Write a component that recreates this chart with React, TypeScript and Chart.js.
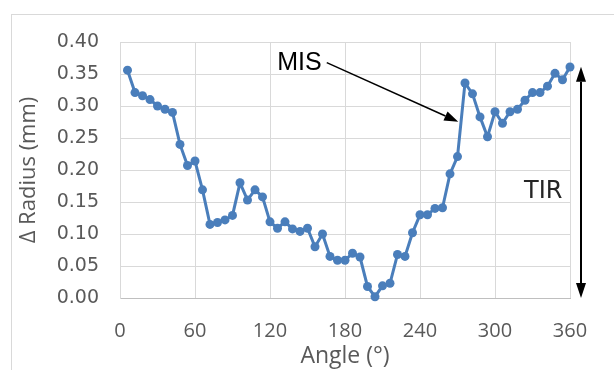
import React, { useEffect, useRef } from "react";
import { Chart, registerables } from "chart.js";

Chart.register(...registerables);

// Data
const angles: number[] = [
  6, 12, 18, 24, 30, 36, 42, 48, 54, 60,
  66, 72, 78, 84, 90, 96, 102, 108, 114, 120,
  126, 132, 138, 144, 150, 156, 162, 168, 174, 180,
  186, 192, 198, 204, 210, 216, 222, 228, 234, 240,
  246, 252, 258, 264, 270, 276, 282, 288, 294, 300,
  306, 312, 318, 324, 330, 336, 342, 348, 354, 360,
];
const radiusDelta: number[] = [
  0.356, 0.321, 0.316, 0.31, 0.3, 0.295, 0.29, 0.24, 0.207, 0.214,
  0.169, 0.115, 0.118, 0.122, 0.129, 0.18, 0.153, 0.169, 0.158, 0.119,
  0.109, 0.119, 0.108, 0.104, 0.109, 0.08, 0.1, 0.065, 0.059, 0.059,
  0.07, 0.064, 0.018, 0.002, 0.019, 0.023, 0.068, 0.065, 0.102, 0.13,
  0.13, 0.14, 0.141, 0.194, 0.221, 0.336, 0.319, 0.283, 0.252, 0.291,
  0.273, 0.291, 0.295, 0.309, 0.321, 0.321, 0.331, 0.351, 0.341, 0.361,
];
const xTickValues: number[] = [0, 60, 120, 180, 240, 300, 360];
const yTickValues: number[] = [0, 0.05, 0.1, 0.15, 0.2, 0.25, 0.3, 0.35, 0.4];

// Annotations (in data units)
const misLabel = { text: "MIS", angle: 125.8, value: 0.356 };
const misArrow = { fromAngle: 165.4, fromValue: 0.3677, toAngle: 270.6, toValue: 0.2755 };
const tirLabel = { text: "TIR", angle: 323.2, value: 0.1558 };
const tirArrow = { angle: 368.8, topValue: 0.3614, bottomValue: 0.0 };

const BLUE = "#4a7ebb";
const GRID = "#d9d9d9";
const TEXT = "#595959";

function arrowHead(ctx: CanvasRenderingContext2D, x1: number, y1: number, x2: number, y2: number, len: number, half: number) {
  const a = Math.atan2(y2 - y1, x2 - x1);
  const bx = x2 - len * Math.cos(a);
  const by = y2 - len * Math.sin(a);
  ctx.beginPath();
  ctx.moveTo(x2, y2);
  ctx.lineTo(bx + half * Math.sin(a), by - half * Math.cos(a));
  ctx.lineTo(bx - half * Math.sin(a), by + half * Math.cos(a));
  ctx.closePath();
  ctx.fill();
  return { bx, by };
}

const annotationPlugin = {
  id: "annotations",
  afterDraw(chart: any) {
    const ctx: CanvasRenderingContext2D = chart.ctx;
    const xs = chart.scales.x;
    const ys = chart.scales.y;
    ctx.save();
    // MIS label
    ctx.fillStyle = "#000000";
    ctx.font = "25px 'Liberation Sans', Arial, sans-serif";
    ctx.textBaseline = "alphabetic";
    ctx.textAlign = "left";
    ctx.fillText(misLabel.text, xs.getPixelForValue(misLabel.angle), ys.getPixelForValue(misLabel.value));
    // MIS arrow
    const x1 = xs.getPixelForValue(misArrow.fromAngle);
    const y1 = ys.getPixelForValue(misArrow.fromValue);
    const x2 = xs.getPixelForValue(misArrow.toAngle);
    const y2 = ys.getPixelForValue(misArrow.toValue);
    ctx.strokeStyle = "#000000";
    ctx.lineWidth = 1.5;
    const h = arrowHead(ctx, x1, y1, x2, y2, 14, 5);
    ctx.beginPath();
    ctx.moveTo(x1, y1);
    ctx.lineTo(h.bx, h.by);
    ctx.stroke();
    // TIR arrow
    const tx = xs.getPixelForValue(tirArrow.angle);
    const ty1 = ys.getPixelForValue(tirArrow.topValue);
    const ty2 = ys.getPixelForValue(tirArrow.bottomValue);
    ctx.lineWidth = 2;
    const h1 = arrowHead(ctx, tx, ty2, tx, ty1, 15, 5);
    const h2 = arrowHead(ctx, tx, ty1, tx, ty2, 15, 5);
    ctx.beginPath();
    ctx.moveTo(tx, h1.by);
    ctx.lineTo(tx, h2.by);
    ctx.stroke();
    // TIR label
    ctx.fillStyle = "#262626";
    ctx.font = "24px 'DejaVu Sans', sans-serif";
    ctx.fillText(tirLabel.text, xs.getPixelForValue(tirLabel.angle), ys.getPixelForValue(tirLabel.value));
    ctx.restore();
  },
};

export default function App() {
  const canvasRef = useRef<HTMLCanvasElement | null>(null);

  useEffect(() => {
    if (!canvasRef.current) return;
    const points = angles.map((a, i) => ({ x: a, y: radiusDelta[i] }));
    const chart = new Chart(canvasRef.current, {
      type: "line",
      data: {
        datasets: [
          {
            data: points,
            borderColor: BLUE,
            backgroundColor: BLUE,
            borderWidth: 3,
            pointRadius: 4.5,
            pointBorderWidth: 0,
            pointBackgroundColor: BLUE,
            tension: 0,
            clip: false as any,
          },
        ],
      },
      options: {
        animation: false,
        responsive: true,
        maintainAspectRatio: false,
        layout: { padding: { top: 42, right: 44, left: 0, bottom: 0 } },
        plugins: { legend: { display: false }, tooltip: { enabled: false } },
        scales: {
          x: {
            type: "linear",
            min: 0,
            max: 360,
            afterBuildTicks: (scale: any) => {
              scale.ticks = xTickValues.map((v) => ({ value: v }));
            },
            afterFit: (scale: any) => {
              scale.height = 72;
            },
            grid: { color: GRID, lineWidth: 1, drawTicks: false },
            border: { color: "#bfbfbf", width: 1 },
            ticks: {
              padding: 21,
              color: TEXT,
              font: { family: "'Open Sans', sans-serif", size: 20 },
              maxRotation: 0,
            },
            title: {
              display: true,
              text: "Angle (°)",
              color: TEXT,
              font: { family: "'Open Sans', sans-serif", size: 23 },
              padding: { top: 0, bottom: 0 },
            },
          },
          y: {
            type: "linear",
            min: 0,
            max: 0.4,
            afterBuildTicks: (scale: any) => {
              scale.ticks = yTickValues.map((v) => ({ value: v }));
            },
            afterFit: (scale: any) => {
              scale.width = 120;
            },
            grid: { color: GRID, lineWidth: 1, drawTicks: false },
            border: { color: GRID, width: 1 },
            ticks: {
              padding: 21,
              color: TEXT,
              font: { family: "'DejaVu Sans', sans-serif", size: 19 },
              callback: (v: any) => Number(v).toFixed(2),
            },
            title: {
              display: true,
              text: "Δ Radius (mm)",
              color: TEXT,
              font: { family: "'Open Sans', sans-serif", size: 22 },
              padding: { top: 16, bottom: 0 },
            },
          },
        },
      },
      plugins: [annotationPlugin],
    });
    return () => chart.destroy();
  }, []);

  return (
    <div style={{ position: "absolute", left: 0, top: 0, width: 614, height: 370, background: "#ffffff", overflow: "hidden" }}>
      <div
        style={{
          position: "absolute",
          left: 11,
          top: 14,
          width: 700,
          height: 500,
          border: "1px solid #d9d9d9",
        }}
      />
      <div style={{ position: "absolute", left: 0, top: 0, width: 614, height: 370 }}>
        <canvas ref={canvasRef} />
      </div>
    </div>
  );
}
